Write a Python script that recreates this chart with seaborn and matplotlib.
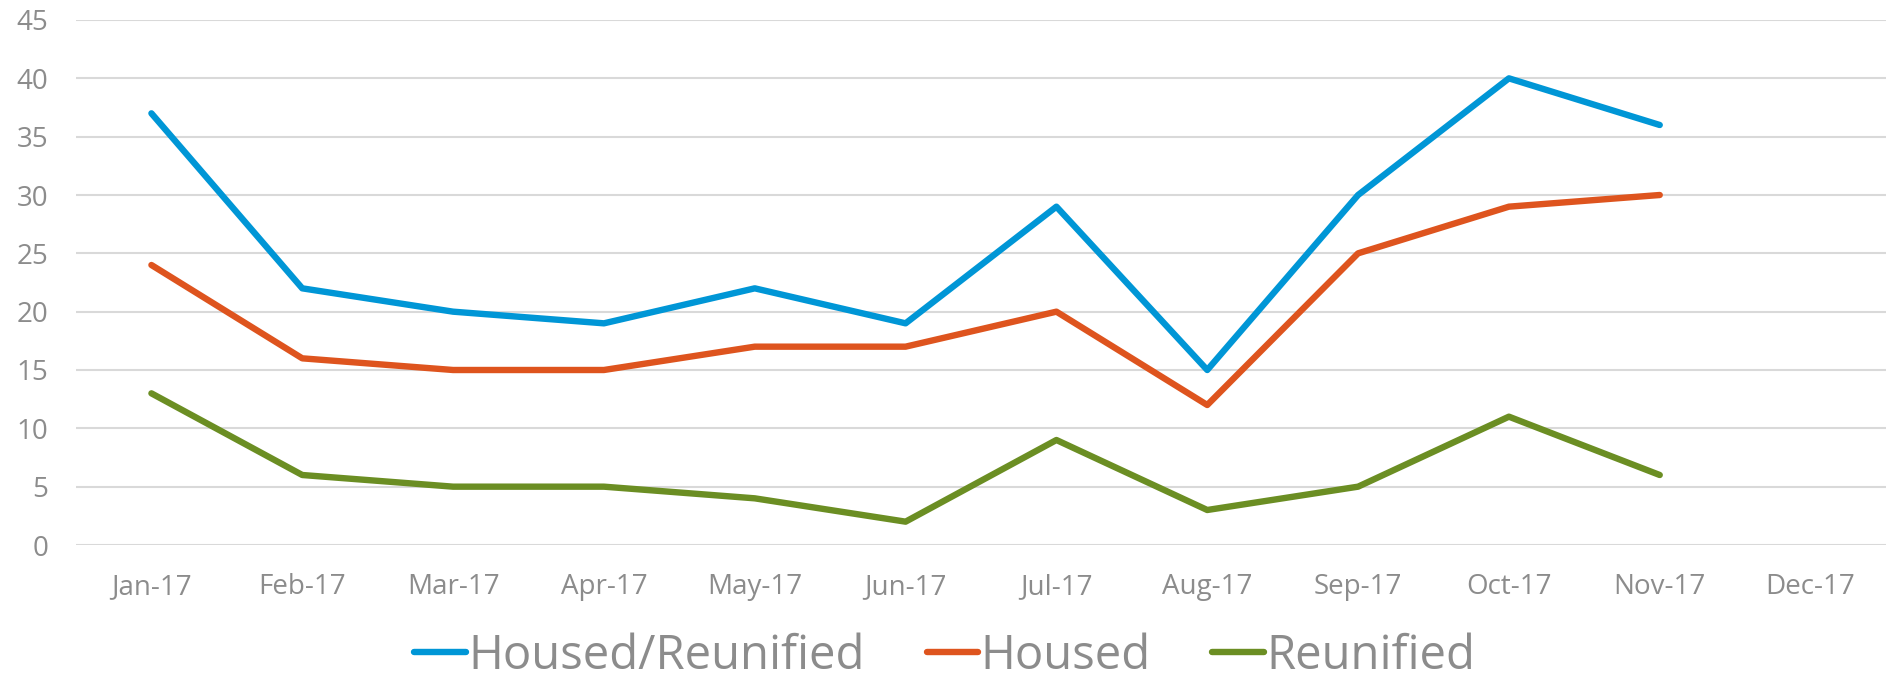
import pandas as pd
import numpy as np
import matplotlib.pyplot as plt
import seaborn as sns

# -----------------------------
# DATA
# -----------------------------
months = ["Jan-17", "Feb-17", "Mar-17", "Apr-17", "May-17", "Jun-17",
          "Jul-17", "Aug-17", "Sep-17", "Oct-17", "Nov-17", "Dec-17"]
housed_reunified = [37, 22, 20, 19, 22, 19, 29, 15, 30, 40, 36, np.nan]
housed = [24, 16, 15, 15, 17, 17, 20, 12, 25, 29, 30, np.nan]
reunified = [13, 6, 5, 5, 4, 2, 9, 3, 5, 11, 6, np.nan]

series_names = ["Housed/Reunified", "Housed", "Reunified"]
colors = ["#0096D6", "#DE541E", "#6B8E23"]

df = pd.DataFrame({"x": range(len(months)),
                   "Housed/Reunified": housed_reunified,
                   "Housed": housed,
                   "Reunified": reunified})
long_df = df.melt(id_vars="x", var_name="series", value_name="value").dropna()

# -----------------------------
# PLOT
# -----------------------------
sns.set_style("white")
plt.rcParams["font.family"] = ["Open Sans", "DejaVu Sans"]
text_gray = "#8C8C8C"

fig = plt.figure(figsize=(18.9, 6.83), dpi=100)
ax = fig.add_axes([76 / 1890, 1 - 545 / 683, 1810 / 1890, 525 / 683])

sns.lineplot(data=long_df, x="x", y="value", hue="series",
             hue_order=series_names, palette=colors, linewidth=4.6,
             solid_capstyle="round", ax=ax, legend=False)

ax.set_xlim(-0.5, len(months) - 0.5)
ax.set_ylim(0, 45)
ax.set_yticks(range(0, 46, 5))
ax.set_xticks(range(len(months)))
ax.set_xticklabels(months)
ax.set_xlabel("")
ax.set_ylabel("")
ax.grid(axis="y", color="#D9D9D9", linewidth=1.5)
ax.set_axisbelow(True)
for s in ax.spines.values():
    s.set_visible(False)
ax.tick_params(axis="both", length=0, labelsize=20, colors=text_gray)
ax.tick_params(axis="x", pad=20)
ax.tick_params(axis="y", pad=20)

handles = [plt.Line2D([], [], color=c, linewidth=4.6, solid_capstyle="round")
           for c in colors]
fig.legend(handles, series_names, loc="center", bbox_to_anchor=(0.5, 1 - 656 / 683),
           ncol=3, frameon=False, handlelength=1.1, handletextpad=0.05,
           columnspacing=1.3, borderpad=0.2,
           prop={"size": 34}, labelcolor=text_gray)

plt.savefig("out.png", dpi=100)
